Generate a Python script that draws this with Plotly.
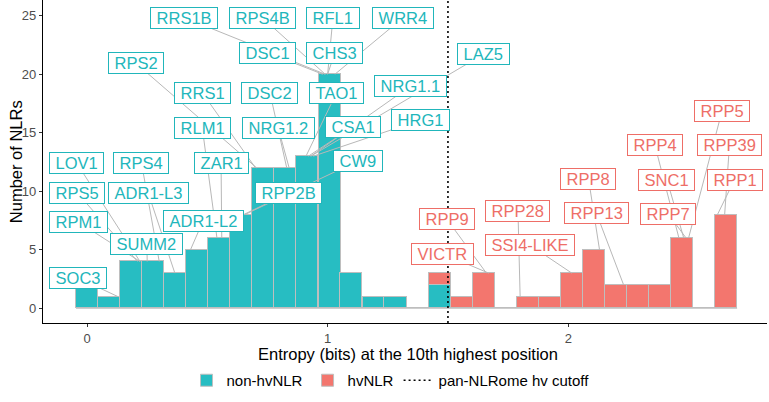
import plotly.graph_objects as go

# ---------------- data ----------------
bin_width = 0.0916
bin_centers = [0.000, 0.092, 0.183, 0.275, 0.366, 0.458, 0.550, 0.641, 0.733, 0.824,
               0.916, 1.008, 1.099, 1.191, 1.282, 1.374, 1.466, 1.557, 1.649, 1.740,
               1.832, 1.924, 2.015, 2.107, 2.198, 2.290, 2.382, 2.473, 2.565, 2.656]
non_hv_counts = [2, 1, 4, 4, 3, 5, 6, 8, 12, 12, 13, 20, 3, 1, 1, 0, 2, 0, 0, 0,
                 0, 0, 0, 0, 0, 0, 0, 0, 0, 0]
hv_counts = [0, 0, 0, 0, 0, 0, 0, 0, 0, 0, 0, 0, 0, 0, 0, 0, 1, 1, 3, 0,
             1, 1, 3, 5, 2, 2, 2, 6, 0, 8]
cutoff = 1.5

# labelled genes: name, entropy (point x), count of its bin (point y)
non_hv_genes = ["RRS1B", "RPS4B", "RFL1", "WRR4", "DSC1", "CHS3", "LAZ5", "NRG1.1", "HRG1",
                "CSA1", "TAO1", "DSC2", "NRG1.2", "CW9", "RPP2B", "RRS1", "RPS2", "RLM1",
                "ZAR1", "LOV1", "RPS4", "RPS5", "ADR1-L3", "RPM1", "SUMM2", "ADR1-L2", "SOC3"]
non_hv_entropy = [0.99, 0.99, 1.00, 1.03, 0.98, 1.00, 0.93, 0.93, 0.94,
                  0.92, 0.91, 0.83, 0.84, 0.655, 0.65, 0.70, 0.705, 0.54,
                  0.56, 0.22, 0.30, 0.21, 0.365, 0.22, 0.25, 0.43, 0.128]
non_hv_bin_count = [20, 20, 20, 20, 20, 20, 13, 13, 13,
                    13, 13, 12, 12, 8, 8, 12, 12, 6,
                    6, 4, 4, 4, 3, 4, 4, 5, 1]

hv_genes = ["RPP5", "RPP4", "RPP39", "RPP8", "SNC1", "RPP1", "RPP13", "RPP7",
            "RPP28", "SSI4-LIKE", "RPP9", "VICTR"]
hv_entropy = [2.50, 2.46, 2.65, 2.13, 2.48, 2.62, 2.23, 2.49,
              1.80, 2.015, 1.66, 1.67]
hv_bin_count = [6, 6, 8, 5, 6, 8, 2, 6,
                1, 3, 3, 3]

# repelled label placement (data units)
non_hv_label_x = [0.404, 0.728, 1.022, 1.314, 0.749, 1.030, 1.647, 1.345, 1.385,
                  1.105, 1.037, 0.760, 0.794, 1.125, 0.839, 0.479, 0.202, 0.479,
                  0.557, -0.044, 0.226, -0.041, 0.254, -0.037, 0.249, 0.482, -0.039]
non_hv_label_y = [24.85, 24.85, 24.85, 24.85, 21.86, 21.86, 21.71, 19.0, 16.08,
                  15.51, 18.43, 18.43, 15.44, 12.59, 9.88, 18.43, 20.97, 15.44,
                  12.45, 12.45, 12.45, 9.88, 9.88, 7.38, 5.46, 7.46, 2.61]
hv_label_x = [2.639, 2.360, 2.670, 2.084, 2.410, 2.691, 2.117, 2.415,
              1.791, 1.839, 1.494, 1.479]
hv_label_y = [16.85, 13.94, 13.94, 11.08, 10.99, 10.99, 8.13, 8.08,
              8.30, 5.43, 7.66, 4.66]

# ---------------- style ----------------
TEAL = "#27BDC2"
RED = "#F3766E"
TEAL_TXT = "#21B6BB"
RED_TXT = "#EE6E67"
SEG = "#B8B8B8"
FONT = "Liberation Sans, Arial, sans-serif"

fig = go.Figure()

# baseline left by zero-count bins
fig.add_trace(go.Scatter(
    x=[bin_centers[0] - bin_width / 2, bin_centers[-1] + bin_width / 2], y=[0, 0],
    mode="lines", line=dict(color="#BEBEBE", width=1), showlegend=False, hoverinfo="skip"))

fig.add_trace(go.Bar(x=bin_centers, y=non_hv_counts, width=bin_width, name="non-hvNLR",
                     marker=dict(color=TEAL, line=dict(color="#BEBEBE", width=1))))
fig.add_trace(go.Bar(x=bin_centers, y=hv_counts, width=bin_width, name="hvNLR",
                     marker=dict(color=RED, line=dict(color="#BEBEBE", width=1))))


def segments(lx, ly, px, py):
    xs, ys = [], []
    for a, b, c, d in zip(lx, ly, px, py):
        xs += [a, c, None]
        ys += [b, d, None]
    return xs, ys


for lx, ly, px, py in [(non_hv_label_x, non_hv_label_y, non_hv_entropy, non_hv_bin_count),
                       (hv_label_x, hv_label_y, hv_entropy, hv_bin_count)]:
    sx, sy = segments(lx, ly, px, py)
    fig.add_trace(go.Scatter(x=sx, y=sy, mode="lines", line=dict(color=SEG, width=1),
                             showlegend=False, hoverinfo="skip"))

annotations = []
NB = "\u00a0"
for names, lx, ly, col in [(non_hv_genes, non_hv_label_x, non_hv_label_y, TEAL_TXT),
                           (hv_genes, hv_label_x, hv_label_y, RED_TXT)]:
    for n, x, y in zip(names, lx, ly):
        annotations.append(dict(
            x=x, y=y, xref="x", yref="y", text=NB + n + NB, showarrow=False,
            font=dict(family=FONT, size=16.5, color=col),
            bgcolor="white", bordercolor=col, borderwidth=1, borderpad=1,
            xanchor="center", yanchor="middle"))

annotations.append(dict(
    x=0.504, y=-0.097, xref="paper", yref="paper", showarrow=False,
    text="Entropy (bits) at the 10th highest position",
    font=dict(family=FONT, size=16.5, color="black"), xanchor="center", yanchor="middle"))
annotations.append(dict(
    x=-0.0377, y=0.5, xref="paper", yref="paper", showarrow=False, textangle=-90,
    text="Number of NLRs",
    font=dict(family=FONT, size=16.5, color="black"), xanchor="center", yanchor="middle"))

fig.add_shape(type="line", x0=cutoff, x1=cutoff, xref="x", y0=0, y1=1, yref="paper",
              line=dict(color="black", width=1.6, dash="2px,3px"),
              showlegend=True, name="pan-NLRome hv cutoff", legendrank=1000)

axis_common = dict(showgrid=False, zeroline=False, showline=True, linecolor="black",
                   linewidth=1.2, ticks="outside", ticklen=3, tickwidth=1, tickcolor="#333333",
                   tickfont=dict(family=FONT, size=13, color="#4D4D4D"))

fig.update_layout(
    width=769, height=402,
    margin=dict(l=43, r=2, t=0, b=79),
    barmode="stack", bargap=0,
    plot_bgcolor="white", paper_bgcolor="white",
    font=dict(family=FONT),
    xaxis=dict(range=[-0.183, 2.826], tickvals=[0, 1, 2], **axis_common),
    yaxis=dict(range=[-1.26, 26.35], tickvals=[0, 5, 10, 15, 20, 25], **axis_common),
    legend=dict(orientation="h", x=0.48, xanchor="center", y=-0.178, yanchor="middle",
                font=dict(family=FONT, size=15, color="black"), itemwidth=30,
                traceorder="normal"),
    annotations=annotations,
)

fig.write_html("out.html", config={"displayModeBar": False},
               post_script="document.body.style.margin='0';")
